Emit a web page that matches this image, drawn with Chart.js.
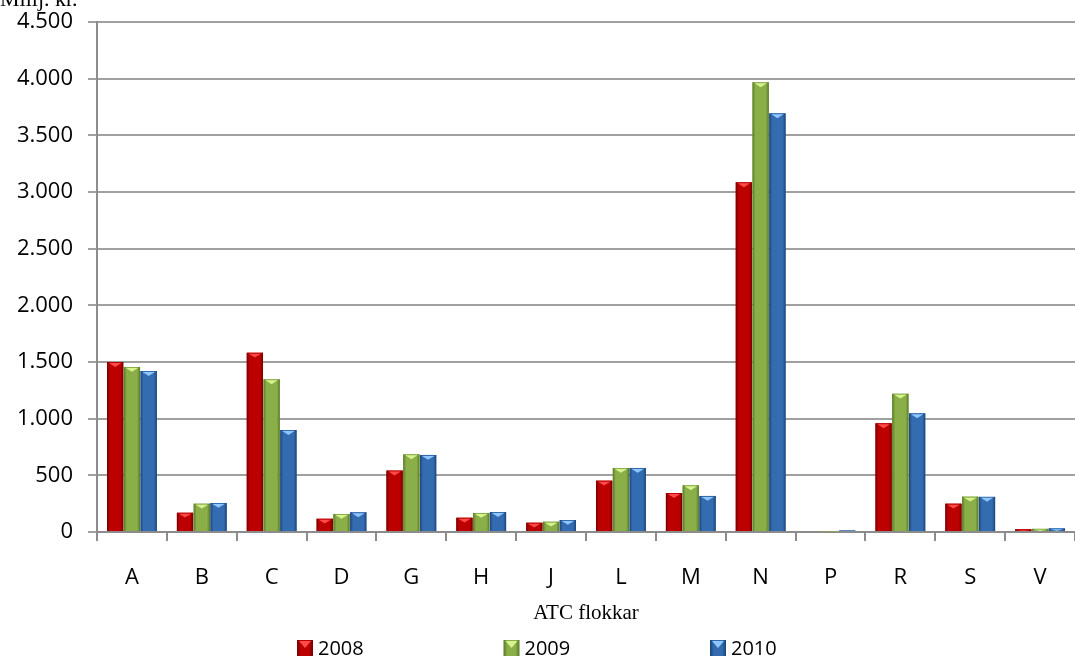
<!DOCTYPE html>
<html>
<head>
<meta charset="utf-8">
<script src="https://cdn.jsdelivr.net/npm/chart.js@4.4.1/dist/chart.umd.min.js"></script>
<style>
  html, body { margin: 0; padding: 0; background: #fff; }
  #wrap { width: 1075px; height: 659px; }
</style>
</head>
<body>
<div id="wrap"><canvas id="atcChart" width="1075" height="659"></canvas></div>
<script>
const categories = ["A", "B", "C", "D", "G", "H", "J", "L", "M", "N", "P", "R", "S", "V"];
const years = ["2008", "2009", "2010"];
const values2008 = [1500, 170, 1582, 117, 542, 126, 82, 453, 344, 3085, 0, 959, 250, 24];
const values2009 = [1456, 250, 1347, 159, 685, 168, 91, 565, 412, 3968, 3, 1220, 312, 28];
const values2010 = [1420, 256, 900, 174, 680, 176, 106, 565, 318, 3694, 16, 1047, 310, 32];
const yTicks = [0, 500, 1000, 1500, 2000, 2500, 3000, 3500, 4000, 4500];

// main colour, dark edge, light top
const palette = [
    { main: "#bc0000", edge: "#760000", light: "#ff4a4a" },
    { main: "#8aae48", edge: "#5a7a28", light: "#d6f28c" },
    { main: "#336cb0", edge: "#1c4578", light: "#8ec6ff" },
];

// bevel look drawn over the library's own bar elements
const bevelBars = {
    id: "bevelBars",
    afterDatasetsDraw(chart) {
        const ctx = chart.ctx;
        chart.data.datasets.forEach((ds, di) => {
            const meta = chart.getDatasetMeta(di);
            const c = palette[di];
            meta.data.forEach((bar) => {
                const h = bar.base - bar.y;
                if (h < 1) return;
                const x0 = bar.x - bar.width / 2;
                const x1 = bar.x + bar.width / 2;
                ctx.save();
                const g = ctx.createLinearGradient(x0, 0, x1, 0);
                g.addColorStop(0, c.edge);
                g.addColorStop(0.18, c.main);
                g.addColorStop(0.82, c.main);
                g.addColorStop(1, c.edge);
                ctx.fillStyle = g;
                ctx.fillRect(x0, bar.y, bar.width, h);
                // top triangle highlight
                const t = Math.min(bar.width * 0.3, h);
                ctx.fillStyle = c.light;
                ctx.beginPath();
                ctx.moveTo(x0 + 2, bar.y + 1);
                ctx.lineTo(x1 - 2, bar.y + 1);
                ctx.lineTo(bar.x, bar.y + t);
                ctx.closePath();
                ctx.fill();
                ctx.restore();
            });
        });
    },
};

// "Millj. kr." sits at the very top left, partly cut off
// and the legend is spread wide at the bottom
const extras = {
    id: "extras",
    afterDraw(chart) {
        const ctx = chart.ctx;
        ctx.save();
        ctx.font = "22px 'Liberation Serif', serif";
        ctx.fillStyle = "#000";
        ctx.textBaseline = "alphabetic";
        ctx.fillText("Millj. kr.", 0, 6);

        const step = 206.5;
        const startX = chart.width / 2 - step - 34;
        const yMid = 648;
        ctx.font = "20px 'Open Sans'";
        ctx.textBaseline = "middle";
        chart.data.datasets.forEach((ds, i) => {
            const bx = startX + i * step;
            const c = palette[i];
            const g = ctx.createLinearGradient(bx, 0, bx + 16, 0);
            g.addColorStop(0, c.edge);
            g.addColorStop(0.25, c.main);
            g.addColorStop(0.75, c.main);
            g.addColorStop(1, c.edge);
            ctx.fillStyle = g;
            ctx.fillRect(bx, yMid - 8, 16, 16);
            ctx.fillStyle = c.light;
            ctx.beginPath();
            ctx.moveTo(bx + 2, yMid - 7);
            ctx.lineTo(bx + 14, yMid - 7);
            ctx.lineTo(bx + 8, yMid);
            ctx.closePath();
            ctx.fill();
            ctx.fillStyle = "#000";
            ctx.fillText(ds.label, bx + 21, yMid + 1);
        });
        ctx.restore();
    },
};

new Chart(document.getElementById("atcChart"), {
    type: "bar",
    data: {
        labels: categories,
        datasets: [
            { label: years[0], data: values2008, backgroundColor: palette[0].main },
            { label: years[1], data: values2009, backgroundColor: palette[1].main },
            { label: years[2], data: values2010, backgroundColor: palette[2].main },
        ],
    },
    options: {
        responsive: false,
        animation: false,
        layout: { padding: { top: 0, right: 0, left: 0, bottom: 33 } },
        datasets: {
            bar: { categoryPercentage: 0.72, barPercentage: 0.97 },
        },
        plugins: {
            tooltip: { enabled: false },
            legend: { display: false },
        },
        scales: {
            x: {
                afterFit(axis) {
                    axis.height = 94;
                },
                grid: {
                    offset: true,
                    drawOnChartArea: false,
                    color: "#8c8c8c",
                    lineWidth: 2,
                    tickLength: 9,
                },
                border: { color: "#8c8c8c", width: 2 },
                ticks: {
                    font: { family: "'Open Sans'", size: 22 },
                    color: "#000",
                    padding: 24,
                },
                title: {
                    display: true,
                    text: "ATC flokkar",
                    font: { family: "'Liberation Serif'", size: 21 },
                    color: "#000",
                    padding: { top: 8, bottom: 0 },
                },
            },
            y: {
                min: 0,
                max: 4500,
                afterBuildTicks(axis) {
                    axis.ticks = yTicks.map((v) => ({ value: v }));
                },
                afterFit(axis) {
                    axis.width = 97;
                    axis.paddingTop = 22;
                },
                grid: {
                    color: "#a0a0a0",
                    lineWidth: 2,
                    tickLength: 9,
                },
                border: { color: "#8c8c8c", width: 2 },
                ticks: {
                    font: { family: "'Open Sans'", size: 22 },
                    color: "#000",
                    padding: 15,
                    callback: (v) => v.toLocaleString("de-DE"),
                },
            },
        },
    },
    plugins: [bevelBars, extras],
});
</script>
</body>
</html>
